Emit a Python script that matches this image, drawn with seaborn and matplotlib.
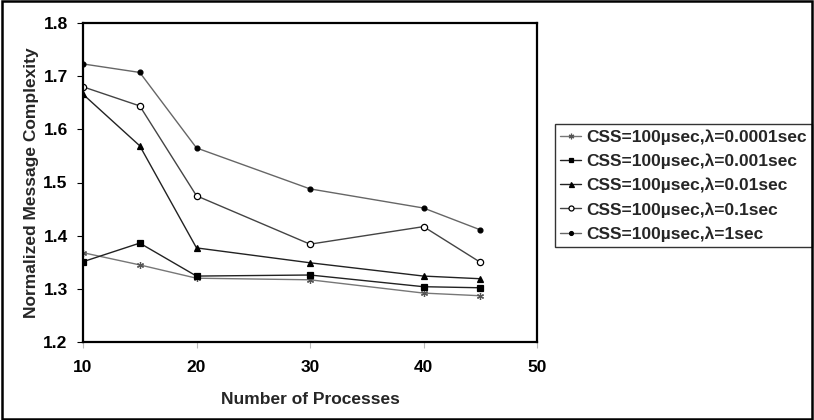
import numpy as np
import pandas as pd
import matplotlib.pyplot as plt
from matplotlib.patches import Rectangle
import seaborn as sns

# number of processes
procs = [10, 15, 20, 30, 40, 45]

# normalized message complexity, one list per lambda
lam_00001 = [1.368, 1.345, 1.320, 1.317, 1.292, 1.287]
lam_0001 = [1.351, 1.386, 1.324, 1.326, 1.304, 1.302]
lam_001 = [1.666, 1.569, 1.377, 1.349, 1.324, 1.319]
lam_01 = [1.680, 1.644, 1.475, 1.384, 1.417, 1.350]
lam_1 = [1.723, 1.707, 1.565, 1.488, 1.452, 1.411]

labels = ['CSS=100µsec,λ=0.0001sec', 'CSS=100µsec,λ=0.001sec',
          'CSS=100µsec,λ=0.01sec', 'CSS=100µsec,λ=0.1sec',
          'CSS=100µsec,λ=1sec']
series = [lam_00001, lam_0001, lam_001, lam_01, lam_1]

rows = []
for lab, vals in zip(labels, series):
    for p, v in zip(procs, vals):
        rows.append({'procs': p, 'value': v, 'series': lab})
df = pd.DataFrame(rows)

sns.set_style('white')
plt.rcParams['font.family'] = ['Liberation Sans', 'DejaVu Sans']
plt.rcParams['font.weight'] = 'bold'
FS = 12.5

line_cols = {labels[0]: '#777777', labels[1]: '#222222', labels[2]: '#222222',
             labels[3]: '#444444', labels[4]: '#666666'}
markers = {labels[0]: 'X', labels[1]: 's', labels[2]: '^',
           labels[3]: 'o', labels[4]: 'o'}

fig = plt.figure(figsize=(8.14, 4.2), dpi=100)
ax = fig.add_axes([83 / 814, 1 - 342 / 420, (537 - 83) / 814, (342 - 23) / 420])

sns.lineplot(data=df, x='procs', y='value', hue='series', style='series',
             hue_order=labels, style_order=labels,
             palette=line_cols, markers=markers, dashes=False, ax=ax,
             linewidth=1.0, markersize=4, legend=False)

# marker faces / edges like the original
sizes = {labels[0]: 5, labels[1]: 4, labels[2]: 4.5, labels[3]: 4.5, labels[4]: 3.5}
for line, lab in zip(ax.lines, labels):
    line.set_label(lab)
    line.set_markeredgewidth(0.9)
    line.set_markersize(sizes[lab])
    if lab == labels[3]:
        line.set_markerfacecolor('white')
        line.set_markeredgecolor('black')
    elif lab == labels[0]:
        line.set_marker((6, 2, 0))
        line.set_markeredgecolor('#555555')
    else:
        line.set_markerfacecolor('black')
        line.set_markeredgecolor('black')

ax.set_xlim(10, 50)
ax.set_ylim(1.2, 1.8)
ax.set_xticks([10, 20, 30, 40, 50])
ax.set_yticks(np.arange(1.2, 1.81, 0.1))
ax.set_yticklabels([f'{t:.1f}' for t in np.arange(1.2, 1.81, 0.1)])
ax.tick_params(axis='both', labelsize=FS, direction='out', length=4,
               width=0.8, colors='black', pad=6)
ax.tick_params(axis='x', colors='#bbbbbb', labelcolor='black', pad=9)
ax.tick_params(axis='y', left=True, pad=7)
ax.tick_params(axis='x', bottom=True)
for lbl in ax.get_xticklabels() + ax.get_yticklabels():
    lbl.set_fontweight('bold')

for s in ax.spines.values():
    s.set_color('black')
    s.set_linewidth(1.6)

ax.set_xlabel('Number of Processes', fontsize=FS, fontweight='bold', labelpad=12)
ax.set_ylabel('Normalized Message Complexity', fontsize=FS, fontweight='bold',
              labelpad=3)

leg = ax.legend(handles=list(ax.lines), labels=labels, loc='upper left',
                bbox_to_anchor=(555 / 814, 1 - 124 / 420),
                bbox_transform=fig.transFigure, frameon=True, fancybox=False,
                edgecolor='black', fontsize=FS, handlelength=1.2,
                handletextpad=0.3, borderpad=0.3, labelspacing=0.5,
                borderaxespad=0, markerscale=0.8)
leg.get_frame().set_linewidth(1.0)
for t in leg.get_texts():
    t.set_fontweight('bold')

# outer border around the whole picture
fig.patches.append(Rectangle((0.002, 0.003), 0.996, 0.994, transform=fig.transFigure,
                             fill=False, edgecolor='black', linewidth=1.8))

fig.savefig('out.png', dpi=100)
